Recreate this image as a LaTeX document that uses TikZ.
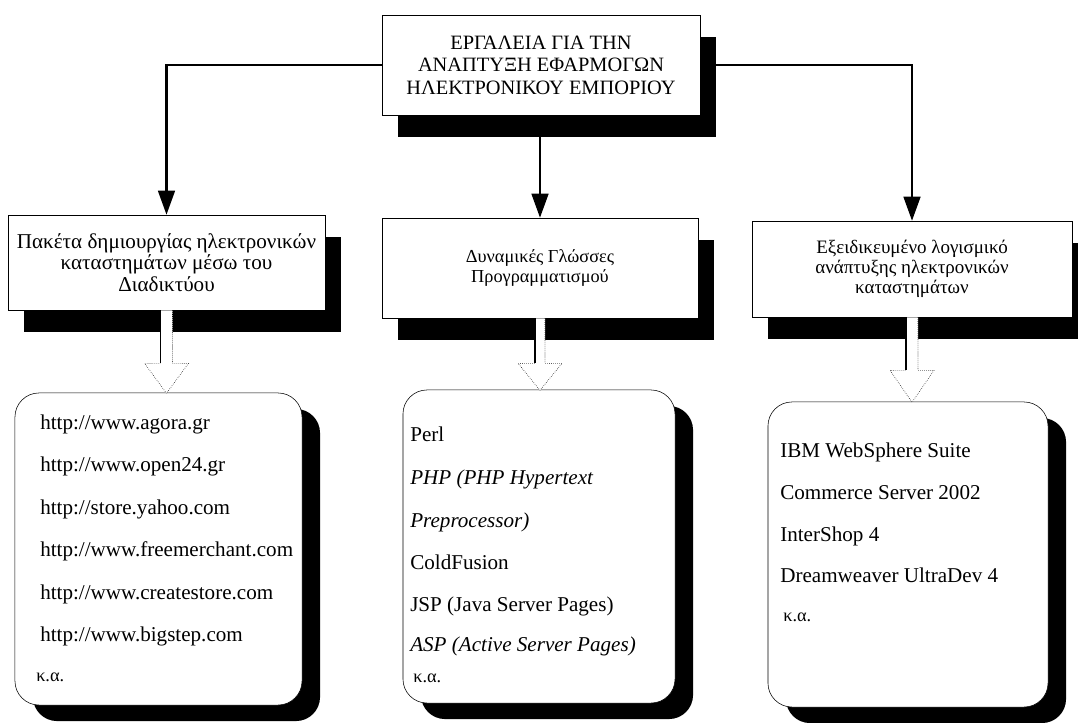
\documentclass[tikz,border=0pt]{standalone}
\usepackage{fontspec}
\setmainfont{Liberation Serif}
\usetikzlibrary{arrows.meta}
\usetikzlibrary{shadows}

\begin{document}
\begin{tikzpicture}[x=0.025cm, y=-0.025cm,
    headbox/.style={draw, thin, fill=white, align=center, inner sep=0pt,
        drop shadow={shadow xshift=0.4cm, shadow yshift=-0.55cm, opacity=1, fill=black}},
    listbox/.style={draw, thin, fill=white, rounded corners=0.6cm, inner sep=0pt,
        drop shadow={shadow xshift=0.45cm, shadow yshift=-0.4cm, opacity=1, fill=black}},
    item/.style={anchor=west, inner sep=0pt, text height=10pt, text depth=3pt,
        font=\fontsize{15pt}{15pt}\selectfont},
    etc/.style={anchor=west, inner sep=0pt, text height=10pt, text depth=3pt,
        font=\fontsize{13pt}{13pt}\selectfont},
    link/.style={line width=1.5pt, -{Triangle[length=0.6cm, width=0.42cm]}},
    hollow/.style={fill=white, densely dotted, thin}]

    \useasboundingbox (0,0) rectangle (1078,723);

    % title and the three groups
    \node[headbox, minimum width=7.95cm, minimum height=2.5cm,
          font=\fontsize{14.5pt}{16pt}\selectfont] (tools) at (541,65)
          {ΕΡΓΑΛΕΙΑ ΓΙΑ ΤΗΝ\\ΑΝΑΠΤΥΞΗ ΕΦΑΡΜΟΓΩΝ\\ΗΛΕΚΤΡΟΝΙΚΟΥ ΕΜΠΟΡΙΟΥ};

    \node[headbox, minimum width=7.925cm, minimum height=2.375cm,
          font=\fontsize{15pt}{15.5pt}\selectfont] (shops) at (166.5,262.5)
          {Πακέτα δημιουργίας ηλεκτρονικών\\καταστημάτων μέσω του\\Διαδικτύου};
    \node[headbox, minimum width=7.9cm, minimum height=2.5cm,
          font=\fontsize{13pt}{14pt}\selectfont] (langs) at (540,268)
          {Δυναμικές Γλώσσες\\Προγραμματισμού};
    \node[headbox, minimum width=8cm, minimum height=2.4cm,
          font=\fontsize{13.5pt}{14pt}\selectfont] (soft) at (912,269)
          {Εξειδικευμένο λογισμικό\\ανάπτυξης ηλεκτρονικών\\καταστημάτων};

    \draw[link] (tools.west) -| (shops.north);
    \draw[link] (langs.north |- tools.south) -- (langs.north);
    \draw[link] (tools.east) -| (soft.north);

    % lists
    \node[listbox, minimum width=7.175cm, minimum height=7.8cm] (shopslist) at (158.5,549) {};
    \node[listbox, minimum width=6.8cm, minimum height=7.825cm] (langslist) at (539,546.5) {};
    \node[listbox, minimum width=7cm, minimum height=7.625cm] (softlist) at (908,554.5) {};

    \begin{scope}[shift={(shops.south)}]
        \draw[hollow] (6,0) -- (6,53) -- (22,53) -- (0,83) -- (-22,53) -- (-6,53) -- (-6,0);
        \draw[thick] (-6,0) -- (-6,53);
    \end{scope}
    \begin{scope}[shift={(langs.south)}]
        \draw[hollow] (5,0) -- (5,45) -- (22,45) -- (0,72) -- (-22,45) -- (-5,45) -- (-5,0);
        \draw[thick] (-5,0) -- (-5,45);
    \end{scope}
    \begin{scope}[shift={(soft.south)}]
        \draw[hollow] (6,0) -- (6,53) -- (22,53) -- (0,85) -- (-22,53) -- (-6,53) -- (-6,0);
        \draw[thick] (-6,0) -- (-6,53);
    \end{scope}

    \node[item] (agora) at (40,425) {http://www.agora.gr};
    \node[item] (open24) at (40,467) {http://www.open24.gr};
    \node[item] (yahoo) at (40,510) {http://store.yahoo.com};
    \node[item] (freemerchant) at (40,552) {http://www.freemerchant.com};
    \node[item] (createstore) at (40,595) {http://www.createstore.com};
    \node[item] (bigstep) at (40,637) {http://www.bigstep.com};
    \node[etc] (shopsetc) at (36,677) {κ.α.};

    \node[item] (perl) at (410,437) {Perl};
    \node[item] (php) at (410,480) {\itshape PHP (PHP Hypertext};
    \node[item] (phpb) at (410,523) {\itshape Preprocessor)};
    \node[item] (coldfusion) at (410,565) {ColdFusion};
    \node[item] (jsp) at (410,607) {JSP (Java Server Pages)};
    \node[item] (asp) at (410,647) {\itshape ASP (Active Server Pages)};
    \node[etc] (langsetc) at (413,678) {κ.α.};

    \node[item] (websphere) at (780,453) {IBM WebSphere Suite};
    \node[item] (commerce) at (780,495) {Commerce Server 2002};
    \node[item] (intershop) at (780,537) {InterShop 4};
    \node[item] (dreamweaver) at (780,578) {Dreamweaver UltraDev 4};
    \node[etc] (softetc) at (783,617) {κ.α.};

\end{tikzpicture}
\end{document}
